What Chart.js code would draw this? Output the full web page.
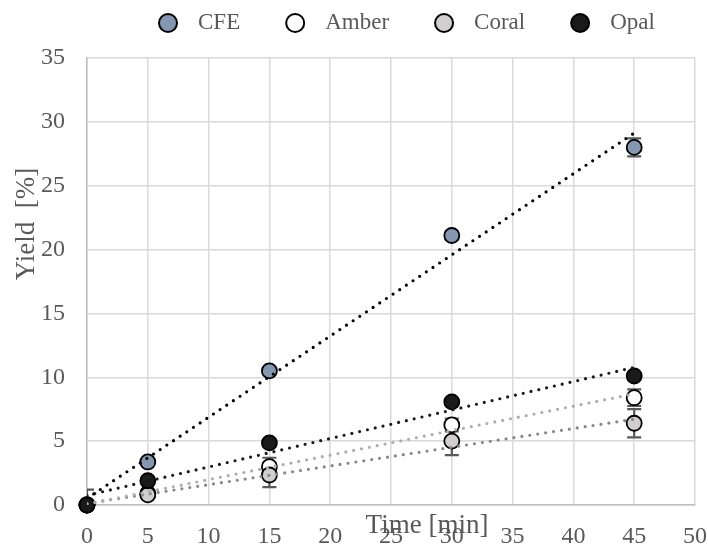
<!DOCTYPE html>
<html>
<head>
<meta charset="utf-8">
<script src="https://cdn.jsdelivr.net/npm/chart.js@4.4.1/dist/chart.umd.min.js"></script>
<style>
  body { margin: 0; background: #fff; }
  #wrap { width: 708px; height: 547px; position: relative; }
</style>
</head>
<body>
<div id="wrap"><canvas id="myChart"></canvas></div>
<script>
// data
let times = [0, 5, 15, 30, 45]
let cfe = [0, 3.37, 10.5, 21.1, 28.0]
let amber = [0, 0.9, 3.0, 6.27, 8.4]
let coral = [0, 0.8, 2.35, 5.0, 6.4]
let opal = [0, 1.9, 4.86, 8.07, 10.1]

let cfeErr = [0, 0.2, 0.3, 0.3, 0.7]
let amberErr = [0, 0.2, 0.7, 0.5, 0.65]
let coralErr = [1.2, 0.2, 0.95, 1.1, 1.1]
let opalErr = [0, 0.2, 0.3, 0.3, 0.3]

let xMin = 0, xMax = 50, xStep = 5
let yMin = 0, yMax = 35, yStep = 5

const fontFam = "'Liberation Serif', 'Times New Roman', serif"
const textColor = '#595959'

function points(vals) {
    return times.map((t, i) => ({ x: t, y: vals[i] }))
}

// least squares line, like the excel trendline
function trend(vals) {
    let n = times.length
    let mx = times.reduce((a, b) => a + b, 0) / n
    let my = vals.reduce((a, b) => a + b, 0) / n
    let sxy = 0, sxx = 0
    for (let i = 0; i < n; i++) {
        sxy += (times[i] - mx) * (vals[i] - my)
        sxx += (times[i] - mx) * (times[i] - mx)
    }
    let m = sxy / sxx
    let b = my - m * mx
    let x0 = times[0], x1 = times[n - 1]
    return [{ x: x0, y: b + m * x0 }, { x: x1, y: b + m * x1 }]
}

function scatterSet(label, vals, errs, fill, order) {
    return {
        type: 'scatter',
        label: label,
        data: points(vals),
        errors: errs,
        backgroundColor: fill,
        borderColor: '#000',
        borderWidth: 1.8,
        pointRadius: 7.5,
        pointHoverRadius: 7.5,
        clip: false,
        order: order
    }
}

function trendSet(vals, color) {
    return {
        type: 'line',
        isTrend: true,
        data: trend(vals),
        borderColor: color,
        borderWidth: 3.2,
        borderDash: [0, 8],
        borderCapStyle: 'round',
        pointRadius: 0,
        fill: false,
        order: 0
    }
}

const errorBars = {
    id: 'errorBars',
    beforeDatasetsDraw(chart) {
        const ctx = chart.ctx
        const area = chart.chartArea
        const xs = chart.scales.x, ys = chart.scales.y
        ctx.save()
        ctx.beginPath()
        ctx.rect(area.left, area.top, area.right - area.left, area.bottom - area.top)
        ctx.clip()
        ctx.strokeStyle = '#595959'
        ctx.lineWidth = 2.2
        chart.data.datasets.forEach(ds => {
            if (!ds.errors) return
            ds.data.forEach((p, i) => {
                let e = ds.errors[i]
                if (!e) return
                let px = xs.getPixelForValue(p.x)
                let top = ys.getPixelForValue(p.y + e)
                let bot = ys.getPixelForValue(p.y - e)
                ctx.beginPath()
                ctx.moveTo(px, top); ctx.lineTo(px, bot)
                ctx.moveTo(px - 7, top); ctx.lineTo(px + 7, top)
                ctx.moveTo(px - 7, bot); ctx.lineTo(px + 7, bot)
                ctx.stroke()
            })
        })
        ctx.restore()
    }
}

// legend + axis titles, placed like the excel chart
const extras = {
    id: 'extras',
    afterDraw(chart) {
        const ctx = chart.ctx
        const area = chart.chartArea
        ctx.save()
        ctx.fillStyle = textColor
        ctx.font = '23px ' + fontFam
        ctx.textBaseline = 'middle'
        let x = 168
        let y = 23
        chart.data.datasets.forEach(ds => {
            if (ds.isTrend) return
            ctx.beginPath()
            ctx.arc(x, y, 9, 0, Math.PI * 2)
            ctx.fillStyle = ds.backgroundColor
            ctx.fill()
            ctx.lineWidth = 2
            ctx.strokeStyle = '#000'
            ctx.stroke()
            ctx.fillStyle = textColor
            ctx.textAlign = 'left'
            ctx.fillText(ds.label, x + 30, y)
            x += 30 + ctx.measureText(ds.label).width + 55
        })

        ctx.font = '27px ' + fontFam
        ctx.textAlign = 'center'
        ctx.fillText('Time [min]', 427, area.bottom + 21)

        ctx.translate(27, 224)
        ctx.rotate(-Math.PI / 2)
        ctx.fillText('Yield  [%]', 0, 0)
        ctx.restore()
    }
}

let chartCtx = document.getElementById('myChart').getContext('2d')

let chart = new Chart(chartCtx, {
    type: 'scatter',
    data: {
        datasets: [
            trendSet(cfe, '#000000'),
            trendSet(amber, '#adadad'),
            trendSet(coral, '#878787'),
            trendSet(opal, '#1a1a1a'),
            scatterSet('CFE', cfe, cfeErr, '#8497b0', 4),
            scatterSet('Amber', amber, amberErr, '#ffffff', 3),
            scatterSet('Coral', coral, coralErr, '#d0cece', 2),
            scatterSet('Opal', opal, opalErr, '#1a1a1a', 1)
        ]
    },
    options: {
        responsive: true,
        maintainAspectRatio: false,
        animation: false,
        layout: { padding: { top: 58, right: 13, bottom: 0, left: 0 } },
        plugins: {
            legend: { display: false },
            tooltip: { enabled: false }
        },
        scales: {
            x: {
                type: 'linear',
                min: xMin,
                max: xMax,
                ticks: {
                    stepSize: xStep,
                    color: textColor,
                    font: { family: fontFam, size: 24 },
                    padding: 17,
                    maxRotation: 0
                },
                grid: { color: '#d9d9d9', lineWidth: 1.5, drawTicks: false },
                border: { color: '#bfbfbf', width: 1.5 },
                afterFit: s => { s.height = 42; s.paddingLeft = 0; s.paddingRight = 0 }
            },
            y: {
                min: yMin,
                max: yMax,
                ticks: {
                    stepSize: yStep,
                    color: textColor,
                    font: { family: fontFam, size: 24 },
                    padding: 22
                },
                grid: { color: '#d9d9d9', lineWidth: 1.5, drawTicks: false },
                border: { color: '#bfbfbf', width: 1.5 },
                afterFit: s => { s.width = 87; s.paddingTop = 0; s.paddingBottom = 0 }
            }
        }
    },
    plugins: [errorBars, extras]
});
</script>
</body>
</html>
